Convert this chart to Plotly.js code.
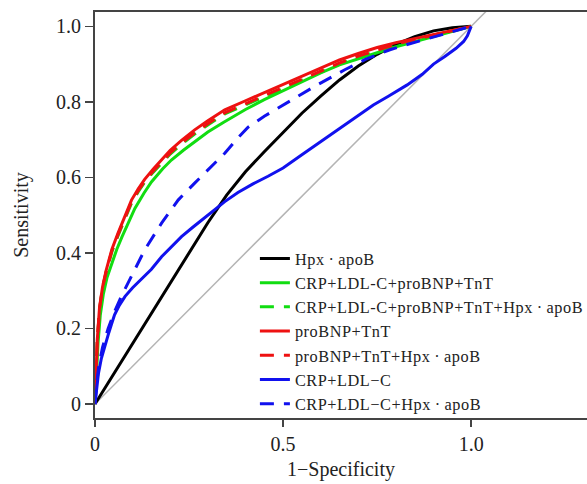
<!DOCTYPE html>
<html>
<head>
<meta charset="utf-8">
<script src="https://cdn.plot.ly/plotly-3.0.1.min.js"></script>
<style>html,body{margin:0;padding:0;background:#fff;overflow:hidden;}#chart{width:620px;height:484px;}
.legendtext{letter-spacing:0.55px;}</style>
</head>
<body>
<div id="chart"></div>
<script>
// Series names (legend order)
const seriesNames = [
  "Hpx\u2009·\u2009apoB",
  "CRP+LDL-C+proBNP+TnT",
  "CRP+LDL-C+proBNP+TnT+Hpx\u2009·\u2009apoB",
  "proBNP+TnT",
  "proBNP+TnT+Hpx\u2009·\u2009apoB",
  "CRP+LDL\u2212C",
  "CRP+LDL\u2212C+Hpx\u2009·\u2009apoB"
];

// Hpx·apoB
const hpxX = [0,0.05,0.1,0.15,0.2,0.25,0.3,0.35,0.4,0.45,0.5,0.55,0.6,0.65,0.7,0.75,0.8,0.85,0.9,0.95,1];
const hpxY = [0,0.08,0.16,0.24,0.32,0.40,0.48,0.553,0.615,0.668,0.72,0.77,0.815,0.858,0.895,0.926,0.952,0.973,0.988,0.996,1];

// CRP+LDL-C+proBNP+TnT
const crpBnpX = [0,0.003,0.008,0.014,0.022,0.032,0.045,0.058,0.072,0.09,0.106,0.13,0.15,0.18,0.203,0.235,0.265,0.3,0.34,0.4,0.45,0.5,0.55,0.6,0.65,0.7,0.75,0.8,0.85,0.9,0.95,1];
const crpBnpY = [0,0.07,0.16,0.235,0.29,0.335,0.375,0.41,0.443,0.485,0.518,0.558,0.588,0.623,0.646,0.672,0.695,0.72,0.745,0.78,0.806,0.83,0.852,0.877,0.898,0.913,0.93,0.946,0.96,0.974,0.987,1];

// CRP+LDL-C+proBNP+TnT+Hpx·apoB
const crpBnpHpxX = [0,0.002,0.006,0.012,0.02,0.03,0.045,0.061,0.08,0.097,0.115,0.132,0.155,0.177,0.2,0.23,0.265,0.3,0.345,0.4,0.45,0.5,0.55,0.6,0.65,0.7,0.75,0.8,0.85,0.9,0.95,1];
const crpBnpHpxY = [0,0.075,0.165,0.25,0.305,0.35,0.403,0.445,0.492,0.532,0.562,0.587,0.614,0.637,0.662,0.688,0.715,0.739,0.768,0.792,0.814,0.836,0.857,0.879,0.9,0.918,0.934,0.951,0.964,0.976,0.988,1];

// proBNP+TnT
const bnpX = [0,0.002,0.006,0.012,0.02,0.03,0.045,0.061,0.08,0.097,0.115,0.132,0.155,0.177,0.2,0.23,0.265,0.3,0.345,0.4,0.45,0.5,0.55,0.6,0.65,0.7,0.75,0.8,0.85,0.9,0.95,1];
const bnpY = [0,0.08,0.17,0.255,0.31,0.355,0.41,0.452,0.5,0.54,0.57,0.595,0.622,0.646,0.672,0.698,0.726,0.75,0.779,0.803,0.825,0.847,0.868,0.89,0.911,0.928,0.944,0.957,0.968,0.979,0.99,1];

// proBNP+TnT+Hpx·apoB
const bnpHpxX = [0,0.002,0.006,0.012,0.02,0.03,0.045,0.061,0.08,0.097,0.115,0.132,0.155,0.177,0.2,0.23,0.265,0.3,0.345,0.4,0.45,0.5,0.55,0.6,0.65,0.7,0.75,0.8,0.85,0.9,0.95,1];
const bnpHpxY = [0,0.078,0.168,0.252,0.308,0.352,0.406,0.448,0.495,0.535,0.565,0.59,0.617,0.64,0.665,0.691,0.718,0.742,0.771,0.795,0.817,0.839,0.86,0.882,0.903,0.921,0.937,0.953,0.965,0.977,0.989,1];

// CRP+LDL−C
const crpX = [0,0.004,0.009,0.017,0.026,0.035,0.044,0.052,0.065,0.08,0.1,0.125,0.15,0.177,0.205,0.23,0.26,0.283,0.315,0.345,0.38,0.42,0.46,0.5,0.55,0.6,0.65,0.7,0.74,0.78,0.83,0.87,0.9,0.93,0.96,0.98,0.99,1];
const crpY = [0,0.035,0.08,0.121,0.155,0.183,0.212,0.236,0.262,0.285,0.308,0.332,0.357,0.39,0.418,0.443,0.468,0.487,0.512,0.536,0.56,0.583,0.603,0.625,0.66,0.695,0.73,0.765,0.792,0.815,0.845,0.873,0.9,0.92,0.942,0.96,0.975,1];

// CRP+LDL−C+Hpx·apoB
const crpHpxX = [0,0.004,0.01,0.02,0.035,0.05,0.07,0.097,0.132,0.177,0.221,0.265,0.31,0.345,0.38,0.407,0.45,0.496,0.54,0.584,0.625,0.664,0.72,0.784,0.83,0.872,0.93,1];
const crpHpxY = [0,0.05,0.1,0.15,0.2,0.24,0.285,0.337,0.408,0.479,0.54,0.585,0.629,0.664,0.705,0.733,0.762,0.788,0.815,0.841,0.864,0.885,0.913,0.938,0.952,0.964,0.982,1];

// reference diagonal
const diagX = [-0.1, 1.5];
const diagY = [-0.1, 1.5];

const xTickVals = [0, 0.5, 1.0];
const xTickText = ["0", "0.5", "1.0"];
const yTickVals = [0, 0.2, 0.4, 0.6, 0.8, 1.0];
const yTickText = ["0", "0.2", "0.4", "0.6", "0.8", "1.0"];

const GREEN = "#11dd11", RED = "#ee1111", BLUE = "#1111ee";
const DASH = "14px,10px";

function tr(x, y, name, color, dash) {
  return {x: x, y: y, name: name, type: "scatter", mode: "lines",
    line: {color: color, width: 3, dash: dash || "solid", shape: "linear"},
    hoverinfo: "skip"};
}

const data = [
  {x: diagX, y: diagY, type: "scatter", mode: "lines", showlegend: false,
   line: {color: "#b4b4b4", width: 1.5}, hoverinfo: "skip"},
  tr(hpxX, hpxY, seriesNames[0], "#000000"),
  tr(crpBnpX, crpBnpY, seriesNames[1], GREEN),
  tr(crpBnpHpxX, crpBnpHpxY, seriesNames[2], GREEN, DASH),
  tr(bnpX, bnpY, seriesNames[3], RED),
  tr(bnpHpxX, bnpHpxY, seriesNames[4], RED, DASH),
  tr(crpX, crpY, seriesNames[5], BLUE),
  tr(crpHpxX, crpHpxY, seriesNames[6], BLUE, DASH)
];

const FONT = "'Liberation Serif', 'Times New Roman', Times, 'DejaVu Serif', serif";

// plot area spans 95..587 px of the 587 px window; the extra width is off-screen
const layout = {
  width: 620, height: 484,
  margin: {l: 95, r: 33, t: 12, b: 66},
  paper_bgcolor: "#fff", plot_bgcolor: "#fff",
  font: {family: FONT, color: "#222", size: 20},
  showlegend: true,
  legend: {x: 0.325, y: 0.435, xanchor: "left", yanchor: "top",
    bgcolor: "rgba(0,0,0,0)", borderwidth: 0, tracegroupgap: 0,
    font: {family: FONT, size: 16.3, color: "#222"}},
  xaxis: {range: [0, 1.308], tickvals: xTickVals, ticktext: xTickText,
    showgrid: false, zeroline: false, showline: true, linecolor: "#444", linewidth: 2,
    mirror: true, ticks: "outside", ticklen: 7, tickwidth: 1.5, tickcolor: "#444",
    tickfont: {family: FONT, size: 20, color: "#222"},
    title: {text: "1\u2212Specificity", font: {family: FONT, size: 20, color: "#222"}, standoff: 8}},
  yaxis: {range: [-0.037, 1.038], tickvals: yTickVals, ticktext: yTickText,
    showgrid: false, zeroline: false, showline: true, linecolor: "#444", linewidth: 2,
    mirror: false, ticks: "outside", ticklen: 8, tickwidth: 1.5, tickcolor: "#444",
    tickfont: {family: FONT, size: 20, color: "#222"},
    title: {text: "Sensitivity", font: {family: FONT, size: 20, color: "#222"}, standoff: 22}}
};

Plotly.newPlot("chart", data, layout, {staticPlot: true, displayModeBar: false});
</script>
</body>
</html>
